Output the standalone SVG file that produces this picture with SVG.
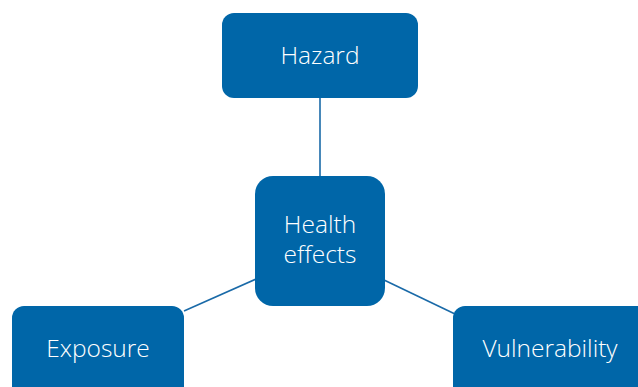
<svg xmlns="http://www.w3.org/2000/svg" width="638" height="387" viewBox="0 0 638 387">
<style>
.box{fill:#0066a8}
.lbl{fill:#ffffff;font-family:"Open Sans","Noto Sans",sans-serif;font-weight:300;font-size:24.5px;text-anchor:middle}
.con{stroke:#1a6aa8;stroke-width:1.6;fill:none}
</style>
<rect width="638" height="387" fill="#ffffff"/>
<g id="connectors">
<line class="con" x1="320" y1="98" x2="320" y2="176"/>
<line class="con" x1="184" y1="311" x2="256" y2="279"/>
<line class="con" x1="384" y1="280" x2="455" y2="314"/>
</g>
<g id="hazard">
<rect class="box" x="222" y="13" width="196" height="85" rx="12"/>
<text class="lbl" x="320" y="64">Hazard</text>
</g>
<g id="health">
<rect class="box" x="255" y="176" width="130" height="130" rx="18"/>
<text class="lbl" x="320" y="233">Health</text>
<text class="lbl" x="320" y="263">effects</text>
</g>
<g id="exposure">
<rect class="box" x="12" y="306" width="172" height="100" rx="12"/>
<text class="lbl" x="98" y="357">Exposure</text>
</g>
<g id="vulnerability">
<rect class="box" x="453" y="306" width="200" height="100" rx="12"/>
<text class="lbl" x="550" y="357">Vulnerability</text>
</g>
</svg>
